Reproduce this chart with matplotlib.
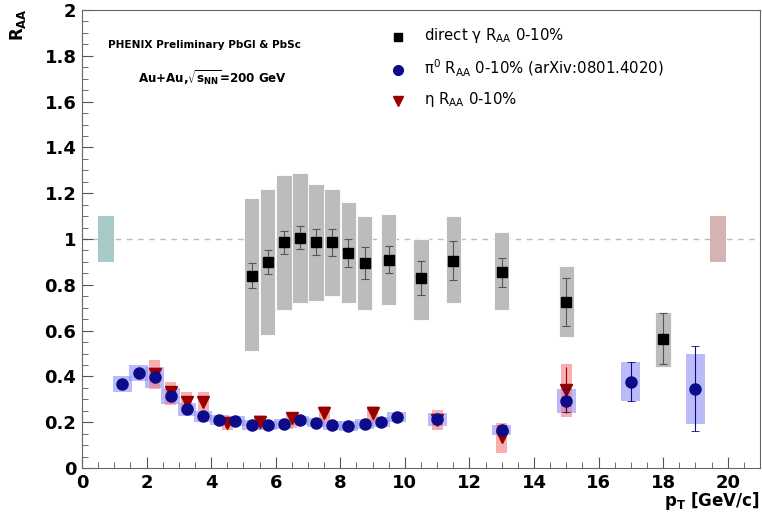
import matplotlib
matplotlib.use("Agg")
import matplotlib.pyplot as plt
from matplotlib.patches import Rectangle
from matplotlib.ticker import MultipleLocator

# direct photon R_AA, 0-10% central Au+Au
gamma_pt = [5.25, 5.75, 6.25, 6.75, 7.25, 7.75, 8.25, 8.75, 9.5, 10.5, 11.5, 13.0, 15.0, 18.0]
gamma_raa = [0.84, 0.90, 0.985, 1.005, 0.985, 0.985, 0.94, 0.895, 0.91, 0.83, 0.905, 0.855, 0.725, 0.565]
gamma_stat = [0.055, 0.052, 0.05, 0.05, 0.057, 0.058, 0.062, 0.068, 0.06, 0.075, 0.086, 0.063, 0.105, 0.11]
gamma_sys_lo = [0.51, 0.58, 0.69, 0.72, 0.73, 0.75, 0.72, 0.69, 0.71, 0.645, 0.72, 0.69, 0.57, 0.44]
gamma_sys_hi = [1.18, 1.22, 1.28, 1.29, 1.24, 1.22, 1.16, 1.10, 1.11, 1.00, 1.10, 1.03, 0.88, 0.68]

# pi0 R_AA, 0-10%
pi0_pt = [1.25, 1.75, 2.25, 2.75, 3.25, 3.75, 4.25, 4.75, 5.25, 5.75, 6.25, 6.75,
          7.25, 7.75, 8.25, 8.75, 9.25, 9.75, 11.0, 13.0, 15.0, 17.0, 19.0]
pi0_raa = [0.366, 0.414, 0.396, 0.316, 0.256, 0.227, 0.21, 0.205, 0.188, 0.186, 0.193, 0.208,
           0.198, 0.186, 0.183, 0.193, 0.202, 0.221, 0.212, 0.166, 0.293, 0.377, 0.346]
pi0_stat = [0.005, 0.005, 0.005, 0.005, 0.005, 0.005, 0.005, 0.005, 0.005, 0.005, 0.005, 0.005,
            0.005, 0.005, 0.005, 0.005, 0.005, 0.006, 0.02, 0.02, 0.05, 0.085, 0.185]
pi0_sys = [0.035, 0.035, 0.045, 0.035, 0.027, 0.024, 0.022, 0.021, 0.021, 0.021, 0.021, 0.021,
           0.021, 0.021, 0.021, 0.021, 0.021, 0.022, 0.03, 0.023, 0.054, 0.085, 0.152]

# eta R_AA, 0-10%
eta_pt = [2.25, 2.75, 3.25, 3.75, 4.5, 5.5, 6.5, 7.5, 9.0, 11.0, 13.0, 15.0]
eta_raa = [0.41, 0.33, 0.288, 0.288, 0.195, 0.20, 0.22, 0.242, 0.242, 0.21, 0.137, 0.341]
eta_stat = [0.005, 0.005, 0.005, 0.005, 0.005, 0.005, 0.005, 0.005, 0.005, 0.01, 0.02, 0.1]
eta_sys_lo = [0.345, 0.275, 0.25, 0.25, 0.165, 0.17, 0.175, 0.20, 0.20, 0.166, 0.067, 0.221]
eta_sys_hi = [0.47, 0.377, 0.33, 0.33, 0.22, 0.23, 0.246, 0.27, 0.27, 0.253, 0.197, 0.454]

# global normalisation uncertainties drawn at R_AA = 1
norm_left = (0.5, 1.0, 0.9, 1.1)
norm_right = (19.45, 19.95, 0.9, 1.1)

GRAY_BOX = "#bcbcbc"
BLUE_BOX = "#8f8ff2"
PINK_BOX = "#f27a7a"
PI0_COLOR = "#0c0c8a"
ETA_COLOR = "#990000"

fig = plt.figure(figsize=(7.62, 5.19), dpi=100)
ax = fig.add_axes([82 / 762, 1 - 468 / 519, 678 / 762, 458 / 519])
ax.set_xlim(0, 21)
ax.set_ylim(0, 2)

ax.axhline(1.0, color="#bbbbbb", linestyle=(0, (4, 4)), linewidth=1.0, zorder=1)

x0, x1, y0, y1 = norm_left
ax.add_patch(Rectangle((x0, y0), x1 - x0, y1 - y0, facecolor="#a6caca", edgecolor="none", zorder=2))
x0, x1, y0, y1 = norm_right
ax.add_patch(Rectangle((x0, y0), x1 - x0, y1 - y0, facecolor="#d6b2b2", edgecolor="none", zorder=2))

# systematic boxes
for pt, lo, hi in zip(gamma_pt, gamma_sys_lo, gamma_sys_hi):
    ax.add_patch(Rectangle((pt - 0.24, lo), 0.48, hi - lo, facecolor=GRAY_BOX,
                           edgecolor="white", linewidth=0.6, zorder=2))
for pt, val, err in zip(pi0_pt, pi0_raa, pi0_sys):
    ax.add_patch(Rectangle((pt - 0.29, val - err), 0.58, 2 * err, facecolor=BLUE_BOX,
                           edgecolor="none", alpha=0.6, zorder=3))
for pt, lo, hi in zip(eta_pt, eta_sys_lo, eta_sys_hi):
    ax.add_patch(Rectangle((pt - 0.17, lo), 0.34, hi - lo, facecolor=PINK_BOX,
                           edgecolor="none", alpha=0.6, zorder=3))

# points with statistical errors
ax.errorbar(gamma_pt, gamma_raa, yerr=gamma_stat, fmt="s", color="black", markersize=7,
            ecolor="#555555", elinewidth=0.8, capsize=3, capthick=0.8, zorder=5)
ax.errorbar(eta_pt, eta_raa, yerr=eta_stat, fmt="v", color=ETA_COLOR, markersize=8,
            ecolor=ETA_COLOR, elinewidth=0.8, capsize=0, zorder=5)
ax.errorbar(pi0_pt, pi0_raa, yerr=pi0_stat, fmt="o", color=PI0_COLOR, markersize=8,
            ecolor=PI0_COLOR, elinewidth=0.8, capsize=3, capthick=0.6, zorder=6)

# axes styling
ax.xaxis.set_major_locator(MultipleLocator(2))
ax.xaxis.set_minor_locator(MultipleLocator(0.5))
ax.yaxis.set_major_locator(MultipleLocator(0.2))
ax.yaxis.set_minor_locator(MultipleLocator(0.05))
ax.yaxis.set_major_formatter(plt.FuncFormatter(lambda v, p: f"{v:g}"))
ax.tick_params(which="both", direction="in", top=False, right=False, color="#555555")
ax.tick_params(which="major", length=8, width=0.8, labelsize=13, pad=4)
ax.tick_params(which="minor", length=4, width=0.6)
for label in ax.get_xticklabels() + ax.get_yticklabels():
    label.set_fontweight("bold")
for spine in ax.spines.values():
    spine.set_color("#666666")
    spine.set_linewidth(0.8)

fig.text(0.024, 0.985, r"$\mathbf{R_{AA}}$", rotation=90, ha="center", va="top", fontsize=12)
fig.text(0.997, 0.034, r"$\mathbf{p_{T}}$ [GeV/c]", ha="right", va="center",
         fontsize=12, fontweight="bold")

ax.text(0.038, 0.924, "PHENIX Preliminary PbGl & PbSc", transform=ax.transAxes,
        ha="left", va="center", fontsize=7.6, fontweight="bold")
ax.text(0.193, 0.852, r"Au+Au,$\mathbf{\sqrt{s_{NN}}}$=200 GeV", transform=ax.transAxes,
        ha="center", va="center", fontsize=8.6, fontweight="bold")

# legend
legend_x = 0.466
ax.plot([legend_x], [0.941], "s", color="black", markersize=6, transform=ax.transAxes)
ax.plot([legend_x], [0.869], "o", color=PI0_COLOR, markersize=7, transform=ax.transAxes)
ax.plot([legend_x], [0.801], "v", color=ETA_COLOR, markersize=7, transform=ax.transAxes)
ax.text(0.504, 0.945, r"direct γ R$_{\mathrm{AA}}$ 0-10%", transform=ax.transAxes,
        ha="left", va="center", fontsize=10.7)
ax.text(0.504, 0.873, r"π$^{\mathrm{0}}$ R$_{\mathrm{AA}}$ 0-10% (arXiv:0801.4020)",
        transform=ax.transAxes, ha="left", va="center", fontsize=10.7)
ax.text(0.504, 0.805, r"η R$_{\mathrm{AA}}$ 0-10%", transform=ax.transAxes,
        ha="left", va="center", fontsize=10.7)

fig.savefig("out.png", dpi=100)
